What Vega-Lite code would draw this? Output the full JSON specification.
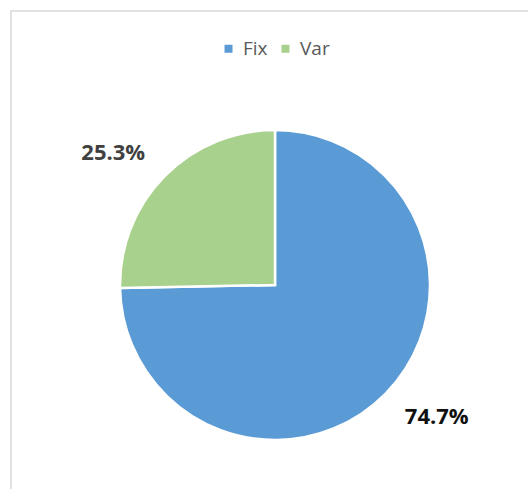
{
  "$schema": "https://vega.github.io/schema/vega-lite/v6.json",
  "width": 528,
  "height": 548,
  "padding": {"left": 11, "top": 11, "right": 0, "bottom": 0},
  "autosize": {"type": "none"},
  "background": "white",
  "view": {"stroke": "#d9d9d9", "strokeWidth": 1.5, "fill": "white"},
  "config": {
    "font": "Open Sans"
  },
  "data": {
    "values": [
      {"cat": "Fix", "share": 0.747},
      {"cat": "Var", "share": 0.253}
    ]
  },
  "encoding": {
    "theta": {"field": "share", "type": "quantitative", "stack": true},
    "order": {"field": "cat", "sort": "ascending"}
  },
  "layer": [
    {
      "mark": {"type": "arc", "outerRadius": 155, "stroke": "white", "strokeWidth": 2.5},
      "encoding": {
        "color": {
          "field": "cat",
          "type": "nominal",
          "scale": {"domain": ["Fix", "Var"], "range": ["#5B9BD5", "#A9D18E"]},
          "legend": {
            "title": null,
            "orient": "none",
            "direction": "horizontal",
            "legendX": 208,
            "legendY": 28,
            "symbolType": "square",
            "symbolSize": 64,
            "symbolStrokeWidth": 0,
            "labelFontSize": 19,
            "labelColor": "#595959",
            "labelFont": "Open Sans",
            "columnPadding": 8,
            "labelOffset": 5,
            "padding": 0
          }
        }
      }
    },
    {
      "mark": {"type": "text", "radius": 209, "thetaOffset": -0.09, "fontSize": 22, "fontWeight": "bold", "font": "Open Sans"},
      "encoding": {
        "text": {"field": "share", "type": "quantitative", "format": ".1%"},
        "color": {"condition": {"test": "datum.cat === 'Fix'", "value": "#111111"}, "value": "#404040"}
      }
    }
  ]
}
